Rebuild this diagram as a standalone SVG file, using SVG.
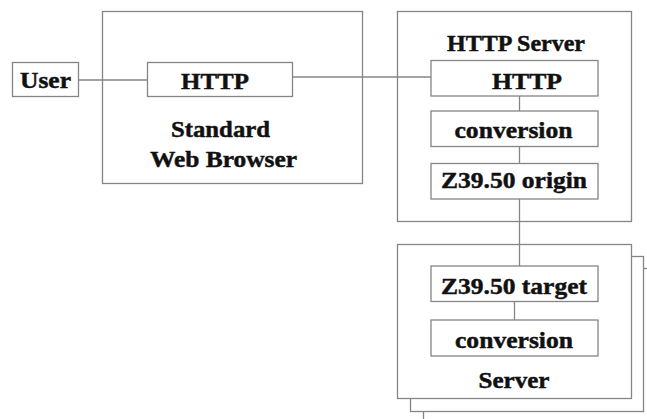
<svg xmlns="http://www.w3.org/2000/svg" width="647" height="419" viewBox="0 0 647 419" font-family="Liberation Serif, DejaVu Serif, serif">
  <style>
    .box { fill: #ffffff; stroke: #858585; stroke-width: 1.3; }
    .wire { fill: none; stroke: #858585; stroke-width: 1.3; }
    text { font-family: 'Liberation Serif', 'DejaVu Serif', serif; font-weight: 700; font-size: 23px; fill: #111111; stroke: #111111; stroke-width: 0.45; }
  </style>
  <rect width="647" height="419" fill="#ffffff"/>

  <!-- outer containers -->
  <g id="browser">
    <rect class="box" x="102.5" y="11.5" width="260" height="172"/>
    <text x="171" y="137.3" textLength="99" lengthAdjust="spacingAndGlyphs">Standard</text>
    <text x="150" y="166.7" textLength="147" lengthAdjust="spacingAndGlyphs">Web Browser</text>
  </g>

  <g id="http-server">
    <rect class="box" x="397.5" y="11.5" width="234" height="210"/>
    <text x="447" y="50.7" textLength="138" lengthAdjust="spacingAndGlyphs">HTTP Server</text>
  </g>

  <!-- stack of target servers, back to front -->
  <g id="server">
    <rect class="box" x="423.5" y="268.5" width="233" height="156"/>
    <rect class="box" x="410.5" y="256.5" width="233" height="155"/>
    <rect class="box" x="397.5" y="244.5" width="234" height="154"/>
    <text x="478.5" y="388.3" textLength="71" lengthAdjust="spacingAndGlyphs">Server</text>
  </g>

  <!-- connectors -->
  <g id="connectors">
    <line class="wire" x1="79" y1="80" x2="147" y2="80"/>
    <line class="wire" x1="292" y1="77" x2="431" y2="77"/>
    <line class="wire" x1="519.5" y1="96" x2="519.5" y2="111"/>
    <line class="wire" x1="519.5" y1="147" x2="519.5" y2="163"/>
    <line class="wire" x1="519.5" y1="199" x2="519.5" y2="272"/>
    <line class="wire" x1="514.5" y1="302" x2="514.5" y2="320"/>
  </g>

  <!-- leaf nodes -->
  <g id="user">
    <rect class="box" x="12.5" y="62.5" width="66" height="34"/>
    <text x="20" y="88.3" textLength="51" lengthAdjust="spacingAndGlyphs">User</text>
  </g>

  <g id="browser-http">
    <rect class="box" x="147.5" y="62.5" width="145" height="34"/>
    <text x="181" y="89" textLength="68" lengthAdjust="spacingAndGlyphs">HTTP</text>
  </g>

  <g id="server-http">
    <rect class="box" x="431" y="60.5" width="167" height="35.5"/>
    <text x="492" y="89.3" textLength="70" lengthAdjust="spacingAndGlyphs">HTTP</text>
  </g>

  <g id="server-conversion">
    <rect class="box" x="431" y="111" width="167" height="35.5"/>
    <text x="454.5" y="137.7" textLength="118" lengthAdjust="spacingAndGlyphs">conversion</text>
  </g>

  <g id="z3950-origin">
    <rect class="box" x="431" y="163.5" width="167" height="35.5"/>
    <text x="441" y="188.3" textLength="146" lengthAdjust="spacingAndGlyphs">Z39.50 origin</text>
  </g>

  <g id="z3950-target">
    <rect class="box" x="431" y="266" width="167" height="35.5"/>
    <text x="441" y="294" textLength="146" lengthAdjust="spacingAndGlyphs">Z39.50 target</text>
  </g>

  <g id="target-conversion">
    <rect class="box" x="431" y="320" width="167" height="36"/>
    <text x="455" y="348.3" textLength="118" lengthAdjust="spacingAndGlyphs">conversion</text>
  </g>
</svg>
